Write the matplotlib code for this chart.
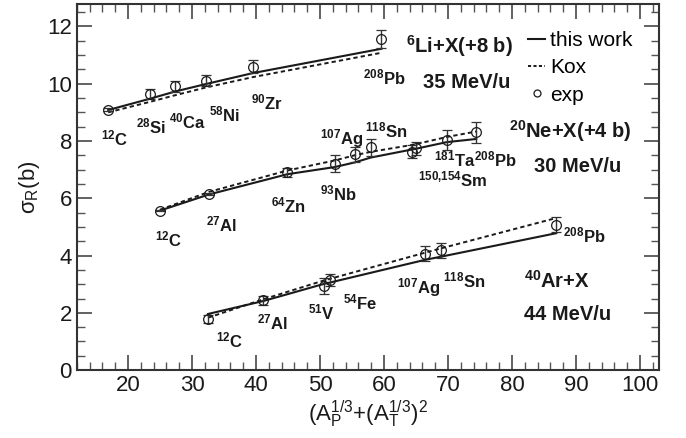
import matplotlib
matplotlib.use('Agg')
import matplotlib.pyplot as plt
from matplotlib.lines import Line2D
from matplotlib.ticker import MultipleLocator

plt.rcParams['font.family'] = ['Liberation Sans', 'DejaVu Sans']
plt.rcParams['mathtext.fontset'] = 'custom'
plt.rcParams['mathtext.rm'] = 'Liberation Sans'
plt.rcParams['mathtext.it'] = 'Liberation Sans'
plt.rcParams['mathtext.bf'] = 'Liberation Sans:bold'
plt.rcParams['mathtext.default'] = 'regular'

# 6Li + X, 35 MeV/u (shifted by +8 b)
li_x = [16.9, 23.5, 27.4, 32.2, 39.5, 59.6]
li_exp = [9.09, 9.64, 9.91, 10.10, 10.60, 11.56]
li_err = [0.05, 0.17, 0.19, 0.19, 0.24, 0.32]
li_this = [9.08, 9.48, 9.73, 9.99, 10.37, 11.22]
li_kox = [9.00, 9.37, 9.60, 9.87, 10.23, 11.08]

# 20Ne + X, 30 MeV/u (shifted by +4 b)
ne_x = [25.0, 32.6, 44.9, 52.3, 55.4, 57.9, 64.3, 65.0, 69.8, 74.4]
ne_exp = [5.57, 6.15, 6.90, 7.21, 7.53, 7.78, 7.62, 7.75, 8.03, 8.31]
ne_err = [0.03, 0.05, 0.17, 0.29, 0.27, 0.29, 0.23, 0.23, 0.35, 0.37]
ne_this = [5.57, 6.13, 6.84, 7.09, 7.25, 7.42, 7.70, 7.73, 7.96, 8.07]
ne_kox = [5.60, 6.22, 6.97, 7.32, 7.50, 7.62, 7.86, 7.89, 8.14, 8.33]

# 40Ar + X, 44 MeV/u
ar_x = [32.5, 41.1, 50.6, 51.6, 66.4, 68.9, 86.9]
ar_exp = [1.77, 2.44, 2.94, 3.13, 4.07, 4.18, 5.08]
ar_err = [0.14, 0.15, 0.27, 0.21, 0.26, 0.27, 0.27]
ar_this = [1.96, 2.41, 3.01, 3.06, 3.85, 3.96, 4.78]
ar_kox = [1.83, 2.47, 3.13, 3.19, 4.10, 4.25, 5.31]

# target labels: (mass number, element, x, y)
targets = [
    ('12', 'C', 15.84, 7.84), ('28', 'Si', 21.28, 8.25), ('40', 'Ca', 26.36, 8.45),
    ('58', 'Ni', 32.58, 8.68), ('90', 'Zr', 39.17, 9.12), ('208', 'Pb', 56.68, 9.97),
    ('12', 'C', 24.29, 4.31), ('27', 'Al', 32.17, 4.84), ('64', 'Zn', 42.28, 5.51),
    ('93', 'Nb', 50.06, 5.94), ('107', 'Ag', 49.95, 7.89), ('118', 'Sn', 57.05, 8.12),
    ('150{,}154', 'Sm', 65.34, 6.41), ('181', 'Ta', 67.8, 7.11), ('208', 'Pb', 74.0, 7.11),
    ('12', 'C', 33.73, 0.78), ('27', 'Al', 40.2, 1.43), ('51', 'V', 48.13, 1.77),
    ('54', 'Fe', 53.52, 2.12), ('107', 'Ag', 61.97, 2.68), ('118', 'Sn', 69.23, 2.89),
    ('208', 'Pb', 87.9, 4.45),
]
systems = [
    ('6', 'Li+X(+8 b)', 63.43, 11.07), ('', '35 MeV/u', 66.01, 9.85),
    ('20', 'Ne+X(+4 b)', 79.6, 8.10), ('', '30 MeV/u', 83.38, 6.93),
    ('40', 'Ar+X', 81.83, 2.89), ('', '44 MeV/u', 81.94, 1.75),
]

ink = '#1a1a1a'
fig = plt.figure(figsize=(6.86, 4.38), dpi=100)
ax = fig.add_axes([0.112, 0.155, 0.849, 0.837])

for x, exp, err, th, kox in [(li_x, li_exp, li_err, li_this, li_kox),
                             (ne_x, ne_exp, ne_err, ne_this, ne_kox),
                             (ar_x, ar_exp, ar_err, ar_this, ar_kox)]:
    ax.plot(x, th, '-', color=ink, lw=1.5)
    ax.plot(x, kox, color=ink, lw=1.4, dashes=(2.2, 1.6))
    ax.errorbar(x, exp, yerr=err, fmt='o', ms=7, mfc='none', mec=ink, mew=0.9,
                ecolor='#333333', elinewidth=1.0, capsize=3.5, capthick=1.0)

for sup, name, x, y in targets:
    ax.text(x, y, r'$^{\mathbf{%s}}$%s' % (sup, name), fontsize=12,
            fontweight='bold', color=ink)
for sup, name, x, y in systems:
    s = (r'$^{\mathbf{%s}}$' % sup if sup else '') + name
    ax.text(x, y, s, fontsize=14.5, fontweight='bold', color=ink)

handles = [Line2D([], [], color=ink, lw=1.5),
           Line2D([], [], color=ink, lw=1.4, dashes=(1.6, 1.2)),
           Line2D([], [], ls='none', marker='o', ms=5, mfc='none', mec=ink, mew=0.9)]
ax.legend(handles, ['this work', 'Kox', 'exp'], loc='upper left',
          bbox_to_anchor=(0.775, 0.925), frameon=False, fontsize=15,
          handlelength=0.8, handletextpad=0.25, labelspacing=0.4,
          borderpad=0, borderaxespad=0)

ax.set_xlim(12, 103)
ax.set_ylim(0, 12.8)
ax.xaxis.set_major_locator(MultipleLocator(10))
ax.xaxis.set_minor_locator(MultipleLocator(2))
ax.yaxis.set_major_locator(MultipleLocator(2))
ax.yaxis.set_minor_locator(MultipleLocator(0.5))
ax.tick_params(which='both', direction='in', top=True, right=True,
               color='#555555', labelsize=16, labelcolor=ink)
ax.tick_params(which='major', length=11, width=1.3)
ax.tick_params(which='minor', length=6, width=1.0)
for sp in ax.spines.values():
    sp.set_linewidth(1.5)
    sp.set_color('#333333')

ax.set_xlabel(r'$(A_P^{1/3}$+$(A_T^{1/3})^2$', fontsize=16, color=ink, labelpad=2)
ax.set_ylabel(r'$\sigma_R$(b)', fontsize=16, color=ink, labelpad=4)

fig.savefig('out.png', dpi=100)
